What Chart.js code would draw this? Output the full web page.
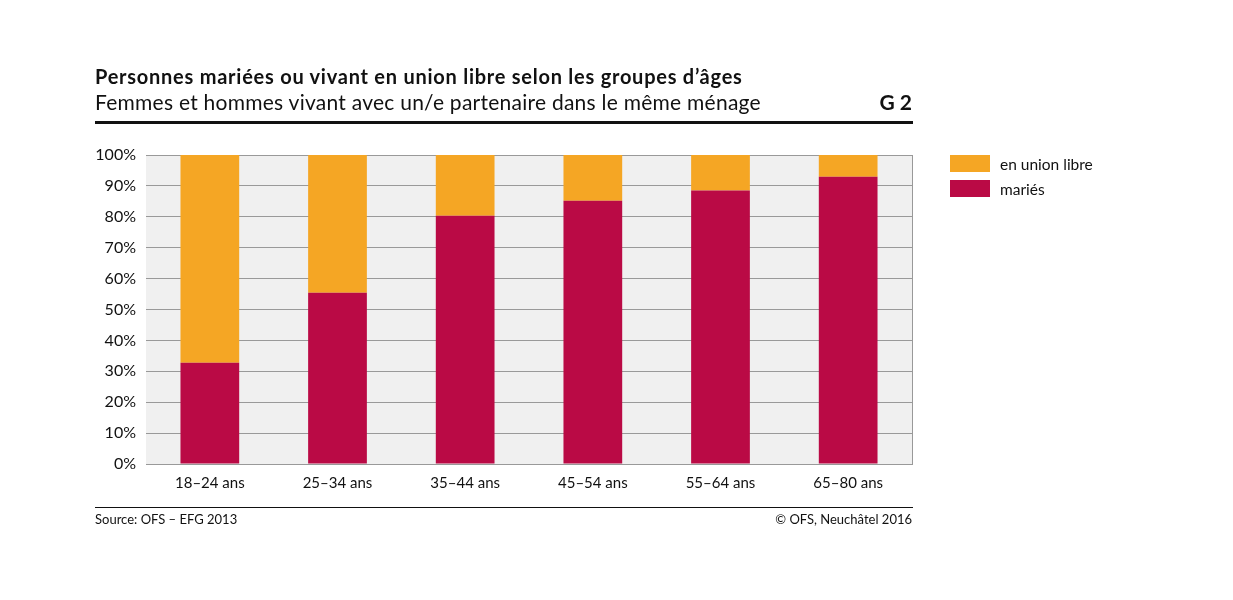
<!DOCTYPE html>
<html><head><meta charset="utf-8">
<script src="https://cdn.jsdelivr.net/npm/chart.js@4/dist/chart.umd.min.js"></script>
<style>
html,body{margin:0;padding:0;background:#fff;}
body{width:1233px;height:600px;position:relative;overflow:hidden;font-family:Lato,"Open Sans",sans-serif;color:#111;}
#wrap{position:absolute;left:0;top:0;width:1233px;height:600px;}
.t{position:absolute;white-space:nowrap;}
#title{left:95px;top:64px;font-size:20px;font-weight:bold;letter-spacing:0.75px;}
#sub{left:95px;top:89px;font-size:21px;letter-spacing:0.25px;}
#g2{right:321px;top:89px;font-size:21px;font-weight:bold;}
#rule1{position:absolute;left:95px;top:121px;width:818px;height:3px;background:#111;}
#rule2{position:absolute;left:95px;top:507px;width:818px;height:1px;background:#111;}
#src{left:95px;top:511px;font-size:13px;}
#copy{right:321px;top:511px;font-size:13px;}
.lg{position:absolute;left:950px;width:40px;height:17px;}
.lt{position:absolute;left:1000px;font-size:15.5px;}
</style></head>
<body>
<div id="wrap"><canvas id="c" width="1233" height="600"></canvas></div>
<div class="t" id="title">Personnes mariées ou vivant en union libre selon les groupes d’âges</div>
<div class="t" id="sub">Femmes et hommes vivant avec un/e partenaire dans le même ménage</div>
<div class="t" id="g2">G 2</div>
<div id="rule1"></div>
<div id="rule2"></div>
<div class="t" id="src">Source: OFS – EFG 2013</div>
<div class="t" id="copy">© OFS, Neuchâtel 2016</div>
<div class="lg" style="top:155px;background:#F5A624"></div>
<div class="t lt" style="top:155px">en union libre</div>
<div class="lg" style="top:180px;background:#BA0A45"></div>
<div class="t lt" style="top:180px">mariés</div>
<script>
const categories = ["18–24 ans","25–34 ans","35–44 ans","45–54 ans","55–64 ans","65–80 ans"];
const maries = [32.8, 55.4, 80.3, 85.2, 88.5, 93.0];
const unionLibre = [67.2, 44.6, 19.7, 14.8, 11.5, 7.0];
const yTicks = [0,10,20,30,40,50,60,70,80,90,100];

const bgPlugin = {
  id:'bg',
  beforeDraw(chart){
    const {ctx, chartArea:a} = chart;
    ctx.save(); ctx.fillStyle='#F0F0F0';
    ctx.fillRect(a.left,a.top,a.right-a.left,a.bottom-a.top);
    ctx.restore();
  }
};
new Chart(document.getElementById('c'), {
  type:'bar',
  data:{labels:categories, datasets:[
    {label:'mariés', data:maries, backgroundColor:'#BA0A45', barPercentage:0.46, categoryPercentage:1},
    {label:'en union libre', data:unionLibre, backgroundColor:'#F5A624', barPercentage:0.46, categoryPercentage:1}
  ]},
  options:{
    responsive:false, animation:false, events:[],
    layout:{padding:{left:0,right:321,top:155,bottom:100}},
    plugins:{legend:{display:false}, tooltip:{enabled:false}},
    scales:{
      x:{stacked:true, grid:{display:false, drawTicks:false}, border:{display:true,color:'#999'},
         ticks:{color:'#111', font:{family:'Lato', size:15}, padding:10},
         afterFit(s){s.height=36;}},
      y:{stacked:true, min:0, max:100, afterBuildTicks(s){s.ticks=yTicks.map(v=>({value:v}));},
         grid:{color:'#999', drawTicks:false}, border:{display:false},
         ticks:{color:'#111', font:{family:'Lato', size:16}, padding:10, callback:v=>v+'%'},
         afterFit(s){s.width=146;}}
    }
  },
  plugins:[bgPlugin, {id:'rb', afterDraw(chart){const {ctx,chartArea:a}=chart;ctx.save();ctx.strokeStyle='#999';ctx.lineWidth=1;ctx.beginPath();ctx.moveTo(Math.round(a.right)+0.5,a.top);ctx.lineTo(Math.round(a.right)+0.5,a.bottom);ctx.stroke();ctx.restore();}}]
});
</script>
</body></html>
